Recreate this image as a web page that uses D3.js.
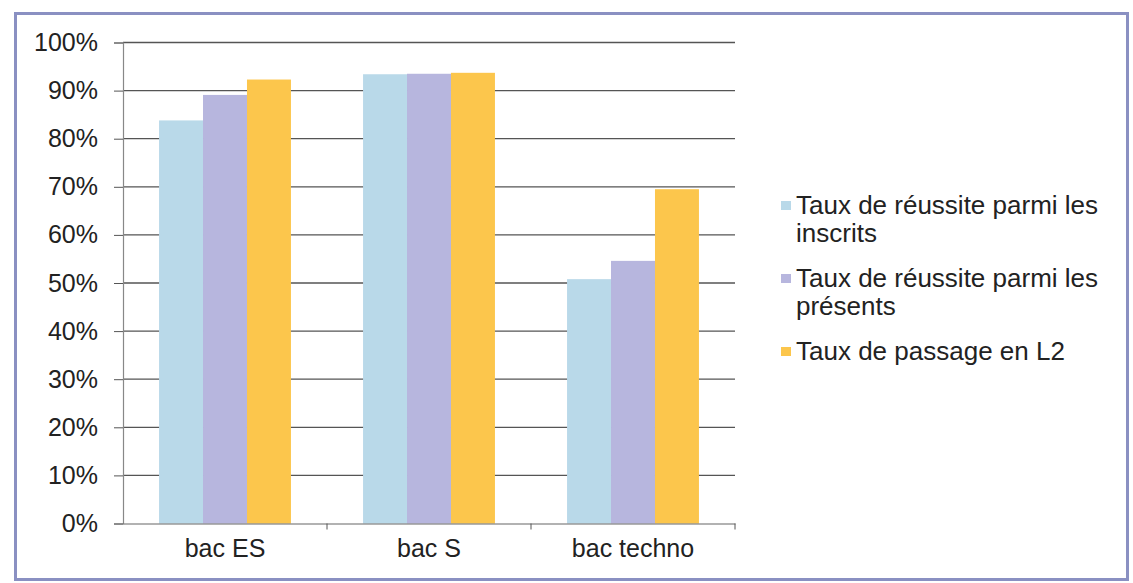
<!DOCTYPE html>
<html>
<head>
<meta charset="utf-8">
<script src="https://cdn.jsdelivr.net/npm/d3@7"></script>
<style>
  body { margin: 0; background: #fff; }
  svg { display: block; font-family: "Liberation Sans", Arial, sans-serif; }
</style>
</head>
<body>
<svg id="chart" width="1133" height="583"></svg>
<script>
// data
var categories = ['bac ES', 'bac S', 'bac techno'];
var seriesNames = [
    ['Taux de réussite parmi les', 'inscrits'],
    ['Taux de réussite parmi les', 'présents'],
    ['Taux de passage en L2']
];
var inscrits = [0.838, 0.934, 0.508];
var presents = [0.891, 0.935, 0.546];
var passageL2 = [0.923, 0.937, 0.695];
var yTicks = [0, 0.1, 0.2, 0.3, 0.4, 0.5, 0.6, 0.7, 0.8, 0.9, 1];

var colors = ['#b9d9e9', '#b7b6de', '#fcc64c'];
var series = [inscrits, presents, passageL2];

var svg = d3.select('#chart');

// frame
svg.append('rect')
    .attr('x', 15.5).attr('y', 13.5)
    .attr('width', 1112).attr('height', 566)
    .attr('fill', '#fff')
    .attr('stroke', '#8a90c2')
    .attr('stroke-width', 3);

var pLeft = 123, pRight = 735, pTop = 42.5, pBottom = 523.5;

var x = d3.scaleBand().domain(categories).range([pLeft, pRight]).paddingInner(0).paddingOuter(0);
var x1 = d3.scaleBand().domain(d3.range(series.length)).range([0, x.bandwidth()]).paddingOuter(0.82).paddingInner(0);
var y = d3.scaleLinear().domain([0, 1]).range([pBottom, pTop]);

// grid
svg.append('g')
    .selectAll('line')
    .data(yTicks.filter(function (d) { return d > 0; }))
    .join('line')
    .attr('x1', pLeft).attr('x2', pRight)
    .attr('y1', function (d) { return y(d); })
    .attr('y2', function (d) { return y(d); })
    .attr('stroke', '#555')
    .attr('stroke-width', 1.3);

// bars
var groups = svg.append('g')
    .selectAll('g')
    .data(categories)
    .join('g')
    .attr('transform', function (d) { return 'translate(' + x(d) + ',0)'; });

groups.selectAll('rect')
    .data(function (d, i) { return series.map(function (s, k) { return { k: k, v: s[i] }; }); })
    .join('rect')
    .attr('x', function (d) { return x1(d.k); })
    .attr('width', x1.bandwidth())
    .attr('y', function (d) { return y(d.v); })
    .attr('height', function (d) { return pBottom - y(d.v); })
    .attr('fill', function (d) { return colors[d.k]; });

// y axis
var yAxis = svg.append('g')
    .attr('transform', 'translate(' + pLeft + ',0)')
    .call(d3.axisLeft(y).tickValues(yTicks).tickFormat(d3.format('.0%')).tickSize(9).tickPadding(16));
yAxis.select('.domain').attr('stroke', '#888').attr('stroke-width', 1.2);
yAxis.selectAll('.tick line').attr('stroke', '#555');
yAxis.selectAll('text').attr('font-size', 25).attr('fill', '#222');

// x axis
var xAxis = svg.append('g')
    .attr('transform', 'translate(0,' + pBottom + ')')
    .call(d3.axisBottom(x).tickSize(0).tickPadding(16));
xAxis.select('.domain').attr('stroke', '#666').attr('stroke-width', 1.2);
xAxis.selectAll('text').attr('font-size', 25).attr('fill', '#222');
svg.append('g')
    .selectAll('line')
    .data(categories)
    .join('line')
    .attr('x1', function (d) { return x(d) + x.bandwidth(); })
    .attr('x2', function (d) { return x(d) + x.bandwidth(); })
    .attr('y1', pBottom).attr('y2', pBottom + 6)
    .attr('stroke', '#555');

// legend
var legendY = [214, 287, 360];
var legend = svg.append('g')
    .selectAll('g')
    .data(seriesNames)
    .join('g')
    .attr('transform', function (d, i) { return 'translate(781,' + legendY[i] + ')'; });
legend.append('rect')
    .attr('x', 0).attr('y', -13)
    .attr('width', 10).attr('height', 9)
    .attr('fill', function (d, i) { return colors[i]; });
legend.append('text')
    .attr('font-size', 26)
    .attr('fill', '#222')
    .selectAll('tspan')
    .data(function (d) { return d; })
    .join('tspan')
    .attr('x', 15)
    .attr('y', function (d, i) { return i * 28; })
    .text(function (d) { return d; });
</script>
</body>
</html>
